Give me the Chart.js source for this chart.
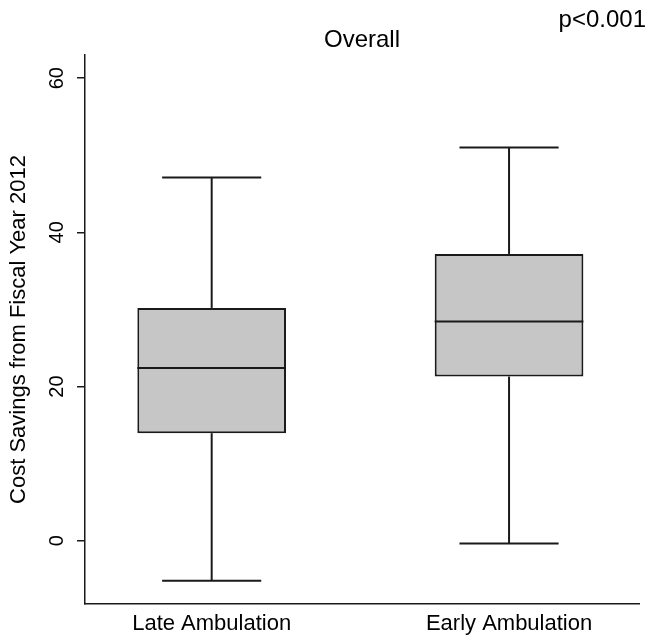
<!DOCTYPE html>
<html>
<head>
<meta charset="utf-8">
<script src="https://cdn.jsdelivr.net/npm/chart.js@4"></script>
<style>
  html, body { margin: 0; padding: 0; background: #fff; }
  #wrap { width: 652px; height: 640px; }
</style>
</head>
<body>
<div id="wrap"><canvas id="myChart"></canvas></div>
<script>
// box plot values
const categories = ['Late Ambulation', 'Early Ambulation'];
const whiskerLow = [-5.2, -0.35];
const q1 = [13.95, 21.3];
const median = [22.4, 28.45];
const q3 = [30.2, 37.2];
const whiskerHigh = [47.1, 51.0];
const yTicks = [0, 20, 40, 60];

const chartTitle = 'Overall';
const pValue = 'p<0.001';
const yTitle = 'Cost Savings from Fiscal Year 2012';

const LINE = '#1a1a1a';
const FILL = 'rgb(198, 198, 198)';
const FONT = '"Liberation Sans", Arial, Helvetica, sans-serif';

// whiskers, caps, medians and the two texts up top
const boxExtras = {
  id: 'boxExtras',
  afterDatasetsDraw(chart) {
    const ctx = chart.ctx;
    const y = chart.scales.y;
    const meta = chart.getDatasetMeta(0);
    ctx.save();
    ctx.strokeStyle = LINE;
    ctx.lineWidth = 2;
    meta.data.forEach((bar, i) => {
      const half = bar.width / 2;
      const cap = bar.width / 3;
      const xc = bar.x;
      const seg = (x1, y1, x2, y2) => {
        ctx.beginPath();
        ctx.moveTo(x1, y1);
        ctx.lineTo(x2, y2);
        ctx.stroke();
      };
      seg(xc, y.getPixelForValue(q3[i]), xc, y.getPixelForValue(whiskerHigh[i]));
      seg(xc, y.getPixelForValue(q1[i]), xc, y.getPixelForValue(whiskerLow[i]));
      seg(xc - cap, y.getPixelForValue(whiskerHigh[i]), xc + cap, y.getPixelForValue(whiskerHigh[i]));
      seg(xc - cap, y.getPixelForValue(whiskerLow[i]), xc + cap, y.getPixelForValue(whiskerLow[i]));
      seg(xc - half, y.getPixelForValue(median[i]), xc + half, y.getPixelForValue(median[i]));
    });
    ctx.restore();
  },
  afterDraw(chart) {
    const ctx = chart.ctx;
    const area = chart.chartArea;
    ctx.save();
    ctx.fillStyle = '#000';
    ctx.textBaseline = 'alphabetic';
    ctx.font = '24px ' + FONT;
    ctx.textAlign = 'center';
    ctx.fillText(chartTitle, (area.left + area.right) / 2, 47);
    ctx.textAlign = 'right';
    ctx.fillText(pValue, 646, 27);
    ctx.restore();
  }
};

const data = {
  datasets: [{
    label: 'IQR',
    data: categories.map((c, i) => ({ x: i + 1, y: [q1[i], q3[i]] })),
    backgroundColor: FILL,
    borderColor: LINE,
    borderWidth: 2,
    borderSkipped: false,
    barPercentage: 1,
    categoryPercentage: 0.5
  }]
};

const config = {
  type: 'bar',
  data: data,
  plugins: [boxExtras],
  options: {
    responsive: true,
    maintainAspectRatio: false,
    animation: false,
    layout: { padding: { top: 55, right: 13, left: 0, bottom: 0 } },
    plugins: {
      legend: { display: false },
      tooltip: { enabled: false },
      title: { display: false }
    },
    scales: {
      x: {
        type: 'linear',
        offset: false,
        min: 0.574,
        max: 2.437,
        afterBuildTicks: (scale) => { scale.ticks = categories.map((c, i) => ({ value: i + 1 })); },
        afterFit: (scale) => { scale.height = 36; },
        grid: { display: false, drawTicks: false },
        border: { display: true, color: LINE, width: 1.5 },
        ticks: {
          padding: 7,
          color: '#000',
          font: { family: FONT, size: 22 },
          callback: (v) => categories[v - 1]
        }
      },
      y: {
        min: -8.2,
        max: 63,
        afterBuildTicks: (scale) => { scale.ticks = yTicks.map(v => ({ value: v })); },
        afterFit: (scale) => { scale.width = 85; },
        grid: { display: true, drawOnChartArea: false, drawTicks: true, tickLength: 8, color: LINE, lineWidth: 1.5 },
        border: { display: true, color: LINE, width: 1.5 },
        ticks: {
          minRotation: 90,
          maxRotation: 90,
          crossAlign: 'center',
          padding: 8,
          color: '#000',
          font: { family: FONT, size: 20 }
        },
        title: {
          display: true,
          text: yTitle,
          color: '#000',
          padding: { top: 6, bottom: 0 },
          font: { family: FONT, size: 22 }
        }
      }
    }
  }
};

const myChart = new Chart(document.getElementById('myChart'), config);
</script>
</body>
</html>
